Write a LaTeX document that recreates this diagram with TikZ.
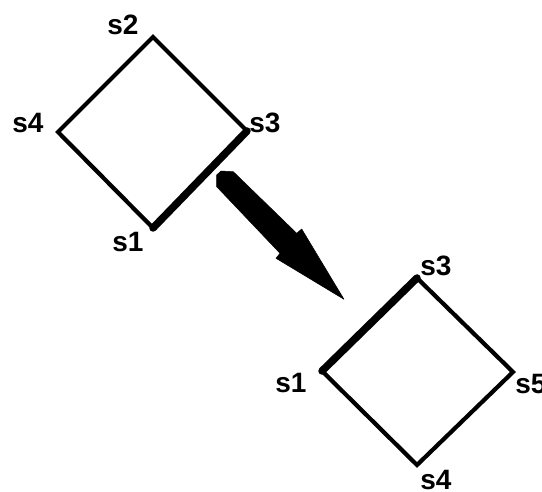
\documentclass[tikz,border=0pt]{standalone}
\usepackage{fontspec}
\setmainfont{Liberation Sans}
\begin{document}
\begin{tikzpicture}[x=1pt,y=-1pt,
  vtx/.style={inner sep=0pt,minimum size=0pt},
  lbl/.style={inner sep=0pt,font=\fontsize{28}{28}\selectfont\bfseries},
  edge/.style={line width=4.2pt},
  thickedge/.style={line width=7.5pt},
  bigarrow/.style={fill=black,draw=black,line width=0.5pt,line join=round}]
\useasboundingbox (0,0) rectangle (542,492);
% top square
\coordinate (a2) at (153,37);
\coordinate (a4) at (58,132);
\coordinate (a3) at (247,131);
\coordinate (a1) at (153,228);
\node[lbl] (la2) at (123,25) {s2};
\node[lbl] (la4) at (28,123) {s4};
\node[lbl] (la3) at (265,123) {s3};
\node[lbl] (la1) at (128,242) {s1};
\draw[edge,line join=miter] (a3) -- (a2) -- (a4) -- (a1);
\draw[thickedge,line cap=round] (a1) -- (a3);
% bottom square
\coordinate (b3) at (417,278);
\coordinate (b1) at (322,371);
\coordinate (b5) at (513,372);
\coordinate (b4) at (417,465);
\node[lbl] (lb3) at (436,266) {s3};
\node[lbl] (lb1) at (291,383) {s1};
\node[lbl] (lb5) at (531,384) {s5};
\node[lbl] (lb4) at (436,480) {s4};
\draw[edge,line join=miter] (b3) -- (b5) -- (b4) -- (b1);
\draw[thickedge,line cap=round] (b1) -- (b3);
% big arrow
\coordinate (t1) at (216.7,186.7);
\coordinate (t2) at (216.7,175);
\coordinate (t3) at (221,171);
\coordinate (t4) at (233.3,171.7);
\coordinate (n1) at (296.7,233.3);
\coordinate (w1) at (301.7,229);
\coordinate (tip) at (344,299.3);
\coordinate (w2) at (276,258.3);
\coordinate (n2) at (280,253.3);
\draw[bigarrow] (t1) -- (t2) -- (t3) -- (t4) -- (n1) -- (w1) -- (tip) -- (w2) -- (n2) -- cycle;
\end{tikzpicture}
\end{document}
